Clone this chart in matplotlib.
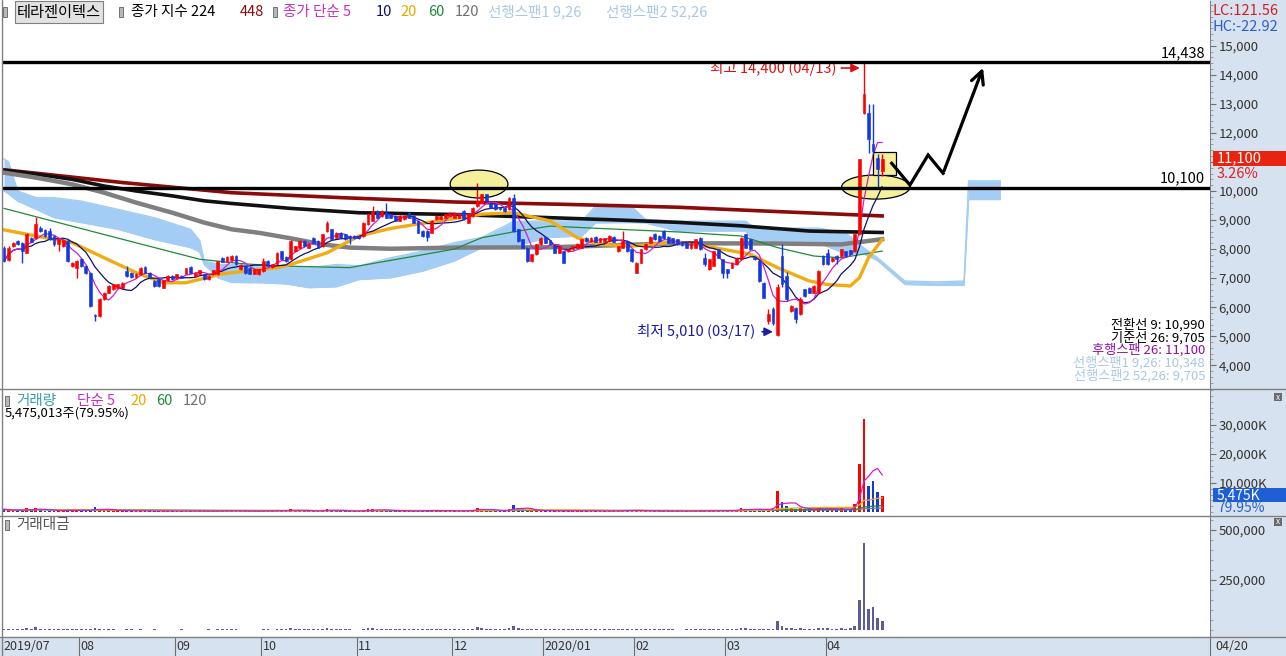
import numpy as np
import pandas as pd
import matplotlib
matplotlib.use('Agg')
import matplotlib.pyplot as plt
from matplotlib.patches import Rectangle, Ellipse
from matplotlib.lines import Line2D
from matplotlib.ticker import MultipleLocator, FuncFormatter

plt.rcParams['font.family'] = ['Noto Sans CJK KR', 'DejaVu Sans']

# ---------------- data (daily bars, 2019/07 .. 2020/04/20) ----------------
open_ = [
    # Jul
    8050, 7610, 8100, 8280, 8220, 7870, 8370, 8370, 8740, 8650, 8620, 8450, 8160, 8100, 8280, 7420, 7360,
    # Aug
    7650, 7420, 7190, 5720, 5690, 6270, 6500, 6610, 6670, 6670, 7240, 7180, 7040, 7130, 7380, 7190, 6900, 6960, 6670, 6920, 7070,
    # Sep
    6990, 7070, 7150, 7380, 7070, 7150, 7130, 6960, 7130, 7130, 7700, 7560, 7610, 7760, 7300, 7420, 7360, 7150, 7130,
    # Oct
    7240, 7590, 7380, 7470, 7930, 7730, 7650, 7930, 8050, 8280, 8050, 8390, 8280, 8100, 8620, 8680, 8390, 8560, 8510, 8450, 8450,
    # Nov
    8450, 8450, 8850, 8970, 9310, 9140, 9250, 9200, 9140, 8970, 9020, 9250, 9140, 8970, 8620, 8620, 8560, 9020, 9020, 9080, 9140,
    # Dec
    9080, 9080, 9310, 8910, 9140, 9480, 9600, 9890, 9600, 9540, 9430, 9430, 9370, 9770, 8680, 8330, 8050, 7590, 7820, 8160,
    # Jan
    8420, 8300, 8100, 7870, 7930, 7930, 7990, 8050, 8050, 8390, 8280, 8420, 8250, 8250, 8280, 8420, 7930, 8050, 8280, 7990,
    # Feb
    7190, 7530, 7990, 8220, 8530, 8450, 8620, 8420, 8370, 8330, 8260, 8220, 8050, 8050, 8390, 7700, 7300, 7420, 7990, 7650,
    # Mar
    7300, 7360, 7470, 7650, 8510, 8340, 7730, 7590, 6840, 5520, 5930, 5050, 7760, 7070, 5870, 5980, 5750, 6610, 6670, 6500, 6500, 7760,
    # Apr
    7880, 7590, 7760, 7760, 7930, 7960, 7930, 8510, 12700, 12700, 11610, 11150, 10700,
]
high = [
    8100, 8100, 8250, 8300, 8250, 8560, 8400, 9100, 8800, 8700, 8740, 8480, 8350, 8330, 8330, 7560, 7620,
    7700, 7440, 7200, 5760, 6300, 6530, 6760, 6800, 6800, 6860, 7420, 7200, 7170, 7380, 7400, 7210, 6930, 7020, 6950, 7090, 7100,
    7150, 7100, 7360, 7400, 7210, 7290, 7150, 7100, 7290, 7600, 7720, 7760, 7780, 7780, 7470, 7440, 7380, 7320, 7320,
    7700, 7610, 7490, 7890, 7950, 7750, 8300, 8120, 8300, 8300, 8210, 8410, 8300, 8530, 8970, 8700, 8580, 8580, 8530, 8470, 8470,
    8470, 8930, 9220, 9480, 9330, 9330, 9600, 9220, 9160, 9160, 9160, 9270, 9160, 8990, 8640, 8640, 8990, 9160, 9160, 9220, 9270,
    9270, 9220, 9330, 9220, 9450, 10290, 9910, 9910, 9620, 9560, 9450, 9450, 9790, 9890, 8700, 8350, 8070, 7840, 8180, 8410,
    8440, 8320, 8120, 8120, 7950, 8010, 8120, 8210, 8350, 8410, 8410, 8440, 8390, 8390, 8470, 8440, 8120, 8620, 8300, 8010,
    7550, 8010, 8210, 8440, 8550, 8470, 8640, 8440, 8390, 8350, 8280, 8240, 8240, 8360, 8410, 7880, 7670, 7950, 8010, 7670,
    7320, 7550, 7720, 8410, 8530, 8360, 7750, 7610, 6860, 5950, 6000, 6800, 8160, 7200, 6060, 6000, 6350, 6630, 6690, 6750, 7270, 7780,
    8000, 7720, 7780, 8010, 7950, 7980, 8530, 11100, 14400, 12990, 12990, 11270, 11270,
]
low = [
    7550, 7590, 8080, 8130, 7530, 7850, 8230, 8350, 8600, 8420, 8300, 8100, 7930, 8080, 7560, 7380, 7010,
    7380, 7150, 6000, 5520, 5660, 6240, 6480, 6590, 6650, 6620, 7040, 7020, 7020, 7100, 7170, 7020, 6700, 6700, 6650, 6900, 6940,
    6970, 7000, 7130, 7170, 7050, 7130, 6940, 6920, 7110, 7110, 7540, 7540, 7590, 7450, 7280, 7130, 7130, 7130, 7110,
    7220, 7400, 7360, 7450, 7630, 7570, 7630, 7910, 8030, 8080, 8030, 8200, 8030, 8080, 8600, 8310, 8370, 8370, 8310, 8160, 8350,
    8350, 8430, 8830, 8950, 9060, 9120, 9060, 9060, 8950, 8950, 9000, 9060, 8890, 8540, 8430, 8290, 8540, 9000, 9000, 9060, 9120,
    9060, 9060, 9000, 8890, 9120, 9460, 9580, 9640, 9410, 9350, 9350, 9290, 9350, 8600, 8260, 8030, 7570, 7570, 7800, 8140,
    8200, 8140, 7850, 7850, 7510, 7910, 7970, 8030, 8030, 8260, 8260, 8230, 8230, 8230, 8260, 8230, 7910, 8030, 7910, 7570,
    7170, 7510, 7970, 8200, 8310, 8260, 8350, 8200, 8200, 8140, 8120, 8030, 7990, 8030, 7970, 7420, 7280, 7400, 7680, 7020,
    7020, 7340, 7450, 7630, 8030, 7970, 7630, 6880, 6310, 5420, 5400, 5010, 6700, 6200, 5850, 5460, 5730, 6360, 6480, 6480, 6480, 7450,
    7450, 7570, 7500, 7740, 7740, 7800, 7910, 8490, 12650, 11320, 11270, 10060, 10520,
]
close = [
    7590, 8050, 8220, 8160, 7930, 8510, 8250, 8850, 8620, 8450, 8330, 8160, 8330, 8300, 7590, 7530, 7590,
    7420, 7190, 6040, 5690, 6270, 6500, 6730, 6780, 6780, 6840, 7070, 7040, 7150, 7360, 7190, 7040, 6730, 6730, 6920, 7070, 6960,
    7130, 7020, 7340, 7190, 7190, 7270, 6960, 7070, 7270, 7580, 7560, 7740, 7760, 7470, 7450, 7190, 7150, 7300, 7300,
    7590, 7420, 7470, 7870, 7650, 7590, 8280, 8100, 8280, 8100, 8190, 8220, 8050, 8510, 8910, 8330, 8560, 8390, 8330, 8370, 8370,
    8370, 8910, 9200, 9310, 9080, 9310, 9080, 9080, 8970, 9140, 9140, 9080, 8910, 8560, 8450, 8410, 8970, 9140, 9140, 9200, 9250,
    9250, 9200, 9020, 9200, 9430, 9660, 9890, 9660, 9430, 9370, 9370, 9310, 9770, 8620, 8280, 8050, 7590, 7820, 8160, 8390,
    8220, 8160, 7870, 8100, 7530, 7990, 8100, 8190, 8330, 8280, 8390, 8250, 8370, 8370, 8450, 8250, 8100, 8280, 7930, 7590,
    7530, 7990, 8190, 8420, 8330, 8280, 8370, 8220, 8220, 8160, 8140, 8050, 8220, 8340, 7990, 7470, 7650, 7930, 7700, 7190,
    7190, 7530, 7700, 8390, 8050, 7990, 7650, 6900, 6330, 5750, 5450, 6700, 6790, 6270, 6040, 5580, 6270, 6380, 6500, 6730, 7250, 7470,
    7470, 7700, 7650, 7990, 7760, 7820, 8510, 11090, 13330, 11780, 11380, 10750, 11100,
]
# volume, thousand shares
volume = [
    900, 700, 500, 450, 800, 1300, 600, 1500, 700, 500, 500, 450, 500, 400, 900, 500, 600,
    500, 450, 700, 1800, 900, 700, 600, 400, 350, 350, 500, 400, 350, 400, 350, 300, 400, 350, 300, 300, 350,
    300, 400, 350, 300, 350, 300, 300, 350, 300, 350, 500, 400, 400, 350, 300, 300, 300, 300, 300,
    500, 400, 300, 600, 400, 350, 1100, 500, 450, 400, 350, 400, 400, 600, 1000, 600, 400, 400, 350, 350, 300,
    300, 600, 900, 1000, 600, 500, 700, 500, 400, 350, 350, 400, 350, 600, 400, 500, 600, 500, 400, 400, 400,
    400, 350, 450, 500, 800, 1500, 900, 600, 500, 400, 400, 350, 1200, 2500, 1300, 900, 700, 500, 500, 400,
    350, 400, 350, 350, 500, 400, 350, 350, 400, 350, 350, 400, 350, 350, 350, 350, 500, 700, 600, 500,
    500, 400, 400, 350, 400, 350, 400, 350, 350, 300, 300, 350, 350, 400, 500, 400, 400, 500, 400, 500,
    500, 500, 600, 1500, 1000, 800, 700, 900, 1200, 1100, 1300, 7300, 3500, 2000, 1500, 1200, 1400, 1000, 900, 1000, 1600, 1200,
    1100, 900, 800, 1400, 900, 1000, 2800, 16500, 32000, 9000, 10700, 6850, 5475,
]
# trading amount, million won
amount = [
    7300, 5500, 4100, 3700, 6300, 11000, 5000, 13000, 6000, 4200, 4100, 3700, 4100, 3100, 6800, 3800, 4500,
    3500, 3200, 5000, 11000, 5100, 4200, 3900, 2700, 2400, 2400, 3600, 2800, 2500, 2900, 2500, 2100, 2700, 2300, 2100, 2100, 2500,
    2100, 2900, 2500, 2200, 2500, 2100, 2100, 2600, 2200, 2600, 3800, 3000, 3000, 2600, 2200, 2200, 2200, 2200, 2200,
    3800, 3000, 2200, 4700, 3100, 2700, 9000, 4100, 3700, 3300, 2900, 3300, 3300, 5000, 8700, 5100, 3400, 3300, 2900, 2900, 2500,
    2500, 5400, 8200, 9200, 5500, 4600, 6400, 4600, 3600, 3100, 3200, 3600, 3100, 5200, 3400, 4300, 5400, 4600, 3700, 3700, 3700,
    3700, 3200, 4100, 4600, 7500, 14500, 8900, 5800, 4700, 3800, 3700, 3300, 11000, 21000, 10500, 7000, 5600, 4100, 4200, 3400,
    2900, 3300, 2800, 2800, 4000, 3200, 2800, 2800, 3300, 2900, 2900, 3300, 2900, 2900, 2900, 2800, 4000, 5600, 4800, 3800,
    3800, 3100, 3200, 2900, 3400, 2900, 3400, 2900, 2900, 2500, 2400, 2800, 2800, 3300, 4000, 3000, 3000, 3900, 3000, 3600,
    3700, 3800, 4800, 12500, 8100, 6400, 5400, 6400, 7000, 6000, 6600, 45000, 22000, 12500, 8200, 6800, 9000, 6500, 6000, 7000, 11000, 8700,
    8300, 6800, 6200, 11000, 6900, 7800, 22000, 150000, 435000, 105000, 115000, 60000, 45000,
]

# long moving averages / ichimoku cloud (bar index -> price)
ma20_x = [0, 7, 15, 22, 29, 35, 40, 48, 60, 63, 71, 78, 85, 93, 99, 105, 112, 120, 126, 131, 138, 148, 156, 164, 170, 177, 181, 186, 188, 190, 193]
ma20_y = [8660, 8450, 8220, 7700, 7190, 6840, 6840, 7150, 7360, 7470, 7870, 8450, 8710, 8910, 9050, 9200, 9250, 8970, 8390, 8160, 8100, 8250, 8050, 7820, 7360, 6900, 6780, 6730, 7010, 7700, 8330]
ma60_x = [0, 22, 43, 52, 60, 76, 82, 89, 99, 105, 113, 120, 135, 148, 162, 170, 178, 184, 193]
ma60_y = [9400, 8500, 7650, 7500, 7420, 7360, 7530, 7720, 8000, 8390, 8620, 8790, 8680, 8590, 8450, 8050, 7760, 7700, 7930]
ma120_x = [0, 7, 15, 22, 29, 37, 44, 50, 56, 63, 70, 76, 85, 99, 120, 148, 170, 184, 193]
ma120_y = [10630, 10460, 10230, 9940, 9600, 9250, 8910, 8680, 8560, 8370, 8160, 8050, 8010, 8050, 8060, 8200, 8190, 8160, 8340]
ma224_x = [0, 7, 15, 22, 29, 37, 44, 50, 63, 78, 99, 120, 135, 148, 162, 177, 193]
ma224_y = [10710, 10580, 10400, 10170, 10000, 9830, 9660, 9570, 9400, 9250, 9190, 9080, 9000, 8920, 8800, 8620, 8570]
ma448_x = [0, 26, 50, 74, 99, 123, 148, 170, 193]
ma448_y = [10730, 10290, 9940, 9770, 9620, 9540, 9440, 9290, 9140]

cloud_x = [0, 1, 3, 7, 11, 17, 25, 33, 41, 43, 44, 47, 50, 56, 62, 67, 73, 78, 85, 92, 99, 105, 112, 120, 127, 130, 135, 138, 141, 148, 163, 165, 179, 185, 189, 192, 198, 205, 211, 212, 219]
cloud_top = [11100, 11000, 10000, 9770, 9770, 9650, 9370, 9080, 8680, 8300, 7600, 7470, 7470, 7420, 7400, 7350, 7470, 7420, 7700, 7930, 8220, 8400, 8950, 8970, 8970, 9480, 9540, 9450, 9020, 8960, 8960, 8720, 8720, 8550, 8040, 7700, 6900, 6870, 6900, 10348, 10348]
cloud_bot = [10000, 9900, 9650, 9370, 9080, 8910, 8680, 8330, 8050, 7900, 7470, 7010, 6850, 6840, 6800, 6670, 6700, 6950, 7010, 7240, 7590, 8050, 8100, 8400, 8450, 8900, 8910, 8910, 8900, 8620, 8620, 8210, 8210, 7830, 7830, 7600, 6780, 6750, 6750, 9705, 9705]

month_labels = ['2019/07', '08', '09', '10', '11', '12', '2020/01', '02', '03', '04']
month_start = [0, 17, 38, 57, 78, 99, 119, 139, 159, 181]

price_ticks = list(range(4000, 15001, 1000))
vol_ticks = [10000, 20000, 30000]
amt_ticks = [250000, 500000]

# ---------------- layout ----------------
W, H = 1286, 656
fig = plt.figure(figsize=(W / 100, H / 100), dpi=100)
PANEL = '#d6e2ef'
RED, BLUE = '#ff0000', '#1438e0'


def fx(px):
    return px / W


def fy(py):
    return 1 - py / H


def ftxt(px, py, s, **kw):
    kw.setdefault('va', 'center')
    kw.setdefault('fontsize', 10.5)
    return fig.text(fx(px), fy(py), s, **kw)


def frect(x0, y0, x1, y1, **kw):
    r = Rectangle((fx(x0), fy(y1)), (x1 - x0) / W, (y1 - y0) / H, transform=fig.transFigure, **kw)
    fig.add_artist(r)
    return r


def fline(x0, y0, x1, y1, **kw):
    fig.add_artist(Line2D([fx(x0), fx(x1)], [fy(y0), fy(y1)], transform=fig.transFigure, **kw))


frect(1210, 0, W, H, color=PANEL, lw=0, zorder=-1)
frect(0, 637, W, H, color=PANEL, lw=0, zorder=-1)

X0, X1 = 3, 1210
ax_p = fig.add_axes([fx(X0), fy(388), (X1 - X0) / W, 387 / H])
ax_v = fig.add_axes([fx(X0), fy(515), (X1 - X0) / W, 125 / H], sharex=ax_p)
ax_a = fig.add_axes([fx(X0), fy(636), (X1 - X0) / W, 119 / H], sharex=ax_p)

ax_p.set_xlim((X0 - 4) / 4.55, (X1 - 4) / 4.55)
ax_p.set_ylim(3217, 16539)
ax_v.set_ylim(-1030, 42070)
ax_a.set_ylim(-30000, 565000)

for ax in (ax_p, ax_v, ax_a):
    for s in ('left', 'top', 'bottom'):
        ax.spines[s].set_visible(False)
    ax.spines['right'].set_color('#808080')
    ax.yaxis.tick_right()
    ax.tick_params(axis='y', which='major', direction='out', length=4, width=0.8, color='#707070',
                   labelsize=9.5, labelcolor='#333333', pad=2)
    ax.tick_params(axis='y', which='minor', direction='out', length=2, width=0.6, color='#909090')
    ax.tick_params(axis='x', bottom=False, labelbottom=False)

# 11,000 sits under the current-price box, so its label stays blank
ax_p.set_yticks(price_ticks)
ax_p.set_yticklabels(['' if t == 11000 else f'{t:,}' for t in price_ticks])
ax_p.yaxis.set_minor_locator(MultipleLocator(200))
ax_v.set_yticks(vol_ticks)
ax_v.yaxis.set_minor_locator(MultipleLocator(2000))
ax_v.yaxis.set_major_formatter(FuncFormatter(lambda v, p: f'{int(v):,}K'))
ax_a.set_yticks(amt_ticks)
ax_a.yaxis.set_minor_locator(MultipleLocator(50000))
ax_a.yaxis.set_major_formatter(FuncFormatter(lambda v, p: f'{int(v):,}'))

# ---------------- price panel ----------------
o = np.array(open_)
hi = np.array(high)
lo = np.array(low)
c = np.array(close)
n = len(c)
bars = np.arange(n)
col = np.where(c >= o, RED, BLUE)

ax_p.fill_between(cloud_x, cloud_top, cloud_bot, color='#a3cdf4', lw=0, zorder=1)
ax_p.plot(cloud_x, cloud_top, color='#a3cdf4', lw=1, zorder=1)
ax_p.plot(cloud_x, cloud_bot, color='#a3cdf4', lw=1, zorder=1)

ax_p.plot(ma448_x, ma448_y, color='#8b0a0a', lw=2.6, zorder=3)
ax_p.plot(ma224_x, ma224_y, color='#111111', lw=2.6, zorder=3)
ax_p.plot(ma120_x, ma120_y, color='#7f7f7f', lw=3.2, zorder=3)
ax_p.plot(ma60_x, ma60_y, color='#1f8a3a', lw=0.9, zorder=3)
ax_p.plot(ma20_x, ma20_y, color='#f0ac10', lw=2.4, zorder=3)
cs = pd.Series(c, dtype=float)
ax_p.plot(bars, cs.rolling(10, min_periods=1).mean(), color='#10106a', lw=0.9, zorder=4)
ax_p.plot(bars, cs.rolling(5, min_periods=1).mean(), color='#d020c8', lw=0.9, zorder=4)

ax_p.vlines(bars, lo, hi, colors=col, lw=1, zorder=6)
ax_p.bar(bars, np.maximum(np.abs(c - o), 25), bottom=np.minimum(o, c), width=0.62,
         color=col, edgecolor=col, lw=0.4, zorder=6)

ax_p.axhline(14438, color='black', lw=2.4, zorder=7)
ax_p.axhline(10100, color='black', lw=2.4, zorder=7)

ax_p.add_patch(Ellipse((104.4, 10238), 12.7, 960, fc='#f6f09c', ec='black', lw=0.9, zorder=2))
ax_p.add_patch(Ellipse((191.6, 10135), 15.0, 830, fc='#f6f09c', ec='black', lw=0.9, zorder=2))
ax_p.add_patch(Rectangle((191.0, 10548), 5.0, 792, fc='#f6f09c', ec='black', lw=0.9, zorder=5))

zz_x = [195.1, 199.1, 203.1, 206.4]
zz_y = [10952, 10204, 11237, 10607]
ax_p.plot(zz_x, zz_y, color='black', lw=2.3, zorder=8, solid_joinstyle='miter')
ax_p.annotate('', xy=(215.4, 14330), xytext=(206.4, 10607),
              arrowprops=dict(arrowstyle='->,head_length=0.9,head_width=0.45', color='black', lw=2.3), zorder=8)

ax_p.annotate('', xy=(188.7, 14232), xytext=(183.4, 14232),
              arrowprops=dict(arrowstyle='-|>,head_length=0.5,head_width=0.25', color='#e01010', lw=1.2))
ax_p.text(182.9, 14232, '최고 14,400 (04/13)', color='#e01010', fontsize=10.5, ha='right', va='center')
ax_p.annotate('', xy=(169.6, 5153), xytext=(166.0, 5153),
              arrowprops=dict(arrowstyle='-|>,head_length=0.5,head_width=0.25', color='#1c1ca8', lw=1.2))
ax_p.text(165.2, 5153, '최저 5,010 (03/17)', color='#1c1ca8', fontsize=10.5, ha='right', va='center')

# ---------------- volume panel ----------------
v = np.array(volume, dtype=float)
ax_v.bar(bars, v, width=0.6, color=col, lw=0, zorder=3)
vs = pd.Series(v)
ax_v.plot(bars, vs.rolling(120, min_periods=1).mean(), color='#808080', lw=0.9, zorder=4)
ax_v.plot(bars, vs.rolling(60, min_periods=1).mean(), color='#1f8a3a', lw=0.9, zorder=4)
ax_v.plot(bars, vs.rolling(20, min_periods=1).mean(), color='#f0ac10', lw=0.9, zorder=4)
ax_v.plot(bars, vs.rolling(5, min_periods=1).mean(), color='#d020c8', lw=0.9, zorder=4)

# ---------------- amount panel ----------------
ax_a.bar(bars, amount, width=0.6, color='#5c5c98', lw=0, zorder=3)

# ---------------- date band ----------------
ax_d = fig.add_axes([fx(X0), fy(656), (X1 - X0) / W, 19 / H], sharex=ax_p)
ax_d.set_axis_off()
for lab, m in zip(month_labels, month_start):
    ax_d.axvline(m - 0.45, color='#707070', lw=0.8)
    ax_d.text(m - 0.15, 0.5, lab, fontsize=9, color='#333333', va='center', ha='left',
              transform=ax_d.get_xaxis_transform())
fline(1210, 637, 1210, 656, color='#707070', lw=0.8)
ftxt(1215, 646, '04/20', fontsize=9, color='#333333')

# ---------------- frame lines ----------------
fline(0, 389, W, 389, color='#808080', lw=1)
fline(0, 516, W, 516, color='#808080', lw=1)
fline(0, 636.5, W, 636.5, color='#808080', lw=1)
fline(1.5, 0, 1.5, H, color='#808080', lw=1)

# ---------------- header texts ----------------
def marker(px, py):
    frect(px, py - 5, px + 4, py + 5, fc='#b8b8b8', ec='#606060', lw=0.6, zorder=5)


marker(3, 12)
ftxt(17, 12, '테라젠이텍스', color='black', fontsize=11,
     bbox=dict(boxstyle='square,pad=0.15', fc='#e2e2e2', ec='#808080', lw=0.8))
marker(119, 12)
ftxt(131, 12, '종가 지수 224', color='black')
ftxt(240, 12, '448', color='#8b0a0a')
marker(273, 12)
ftxt(283, 12, '종가 단순 5', color='#c830c0')
ftxt(376, 12, '10', color='#10106a')
ftxt(400, 12, '20', color='#e8a800')
ftxt(428, 12, '60', color='#1f8a3a')
ftxt(455, 12, '120', color='#707070')
ftxt(488, 12, '선행스팬1 9,26', color='#a9c8e6')
ftxt(606, 12, '선행스팬2 52,26', color='#a9c8e6')

ftxt(1212, 11, 'LC:121.56', color='#d02020')
ftxt(1212, 27, 'HC:-22.92', color='#2a5fc8')

ftxt(1205, 53, '14,438', ha='right', color='black')
ftxt(1205, 178, '10,100', ha='right', color='black')

frect(1213, 151, W, 166, color='#e8230f', lw=0, zorder=3)
ftxt(1217, 158.5, '11,100', color='white', zorder=4)
ftxt(1217, 174, '3.26%', color='#e02020')

info = [('전환선 9: 10,990', 'black'), ('기준선 26: 9,705', 'black'),
        ('후행스팬 26: 11,100', '#8a10a8'), ('선행스팬1 9,26: 10,348', '#a9c8e6'),
        ('선행스팬2 52,26: 9,705', '#a9c8e6')]
for i, (s, cl) in enumerate(info):
    ftxt(1205, 325 + i * 12.7, s, ha='right', color=cl, fontsize=9.5)

marker(5, 401)
ftxt(16, 401, '거래량', color='#3aa0a8')
ftxt(77, 401, '단순 5', color='#c830c0')
ftxt(130, 401, '20', color='#e8a800')
ftxt(156, 401, '60', color='#1f8a3a')
ftxt(183, 401, '120', color='#707070')
ftxt(5, 413, '5,475,013주(79.95%)', color='black', fontsize=9.5)

frect(1213, 488, W, 502, color='#1f5fd6', lw=0, zorder=3)
ftxt(1217, 495.5, '5,475K', color='white', fontsize=10, zorder=4)
ftxt(1217, 508, '79.95%', color='#2a5fc8', fontsize=10)

marker(5, 525)
ftxt(16, 525, '거래대금', color='#555555')

for yy in (397, 522):
    frect(1274, yy - 4, 1282, yy + 4, color='#6a6a6a', lw=0, zorder=4)
    ftxt(1278, yy, 'x', color='white', fontsize=6, ha='center', zorder=5)

fig.savefig('out.png', dpi=100)
